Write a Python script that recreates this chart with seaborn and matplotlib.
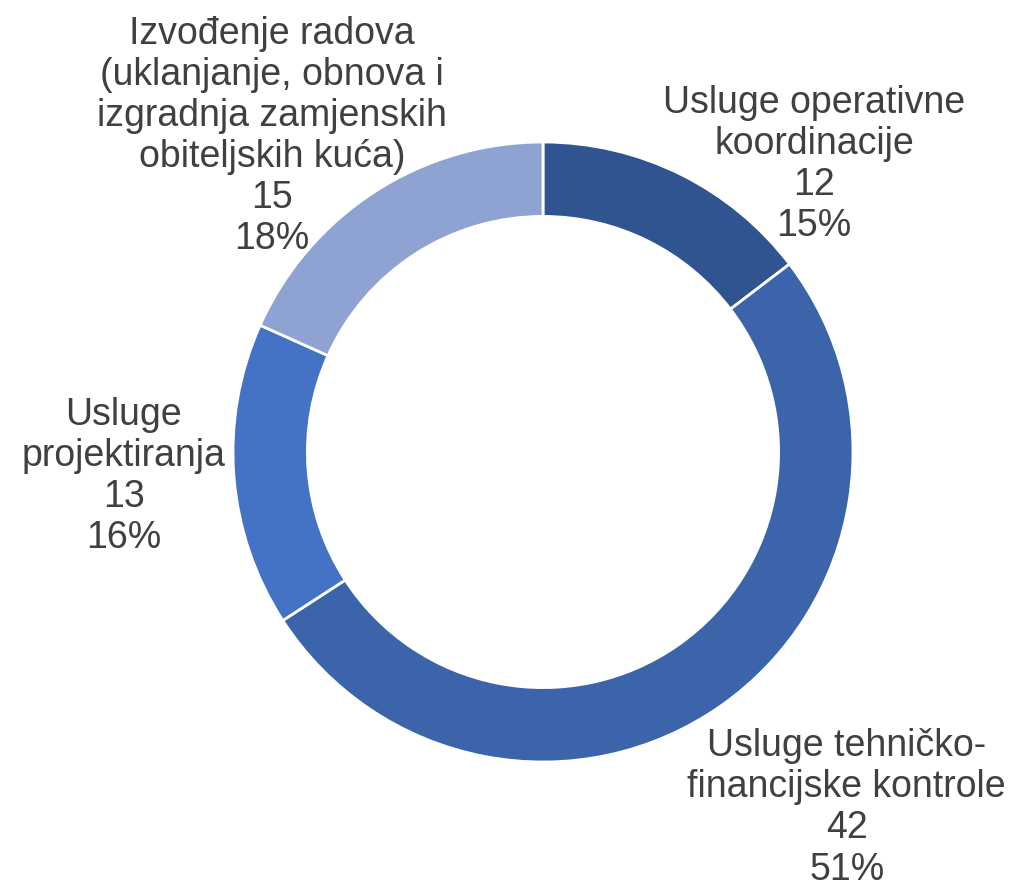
import matplotlib
matplotlib.use("Agg")
import matplotlib.pyplot as plt
import seaborn as sns

categories = [
    "Usluge operativne\nkoordinacije",
    "Usluge tehničko-\nfinancijske kontrole",
    "Usluge\nprojektiranja",
    "Izvođenje radova\n(uklanjanje, obnova i\nizgradnja zamjenskih\nobiteljskih kuća)",
]
values = [12, 42, 13, 15]
colors = ["#30548F", "#3C64AA", "#4472C4", "#8FA3D3"]
# label anchor points, in units of the outer radius
label_pos = [(0.874, 0.93), (0.98, -1.145), (-1.352, -0.077), (-0.874, 1.02)]

sns.set_theme(style="white")
plt.rcParams["font.family"] = ["Liberation Sans", "DejaVu Sans"]

fig = plt.figure(figsize=(10.17, 8.87), dpi=100)
ax = fig.add_axes([0, 0, 1, 1])

ax.pie(values, colors=colors, startangle=90, counterclock=False,
       radius=1.0, wedgeprops=dict(width=0.24, edgecolor="white", linewidth=2))

total = sum(values)
for cat, v, (x, y) in zip(categories, values, label_pos):
    pct = round(100 * v / total)
    ax.text(x, y, f"{cat}\n{v}\n{pct}%", ha="center", va="center",
            fontsize=27, color="#404040", linespacing=1.18)

ax.set_aspect("equal")
r_px = 310
cx, cy = 543, 453
ax.set_xlim(-cx / r_px, (1017 - cx) / r_px)
ax.set_ylim(-(887 - cy) / r_px, cy / r_px)
ax.axis("off")

fig.savefig("out.png", dpi=100)
